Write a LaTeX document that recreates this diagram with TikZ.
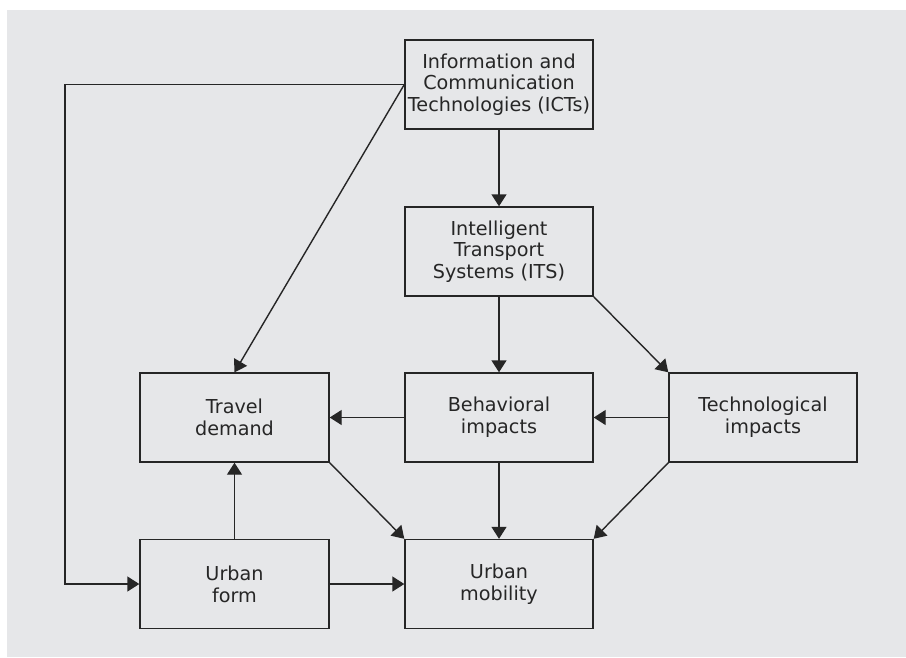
\documentclass[tikz,border=0pt]{standalone}
\usepackage{fontspec}
\setmainfont{DejaVu Sans}
\usetikzlibrary{arrows.meta}
\definecolor{panel}{HTML}{E6E7E9}
\definecolor{ink}{HTML}{262626}
\begin{document}
\begin{tikzpicture}[x=1pt,y=-1pt,
  box/.style={draw=ink, line width=1.4pt, rectangle, inner sep=0pt,
    minimum width=188pt, minimum height=89pt, align=center, text=ink,
    font=\fontsize{19.2}{21.8}\selectfont},
  link/.style={draw=ink, line width=1.4pt,
    -{Triangle[length=12pt,width=15pt]}}]
  % canvas and grey panel
  \useasboundingbox (0,0) rectangle (906,657);
  \fill[white] (0,0) rectangle (906,657);
  \fill[panel] (7,10) rectangle (906,657);

  % boxes
  \node[box] (ict) at (499,84.5) {Information and\\Communication\\Technologies (ICTs)};
  \node[box] (its) at (499,251.5) {Intelligent\\Transport\\Systems (ITS)};
  \node[box, minimum width=189pt] (travel) at (234.5,417.5) {Travel\\demand};
  \node[box] (behav) at (499,417.5) {Behavioral\\impacts};
  \node[box] (tech) at (763,417.5) {Technological\\impacts};
  \node[box, minimum width=189pt] (form) at (234.5,584) {Urban\\form};
  \node[box] (mob) at (499,584) {Urban\\mobility};

  % corner points of the long left-hand connector
  \coordinate (lt) at (65,84.5);
  \coordinate (lb) at (65,584);

  % connectors
  \draw[link] (ict.south) -- (its.north);
  \draw[link] (its.south) -- (behav.north);
  \draw[link] (its.south east) -- (tech.north west);
  \draw[link] (ict.west) -- (travel.north);
  \draw[link] (behav.west) -- (travel.east);
  \draw[link] (tech.west) -- (behav.east);
  \draw[link] (travel.south east) -- (mob.north west);
  \draw[link] (behav.south) -- (mob.north);
  \draw[link] (tech.south west) -- (mob.north east);
  \draw[link] (form.north) -- (travel.south);
  \draw[link] (form.east) -- (mob.west);
  \draw[link] (ict.west) -- (lt) -- (lb) -- (form.west);
\end{tikzpicture}
\end{document}
